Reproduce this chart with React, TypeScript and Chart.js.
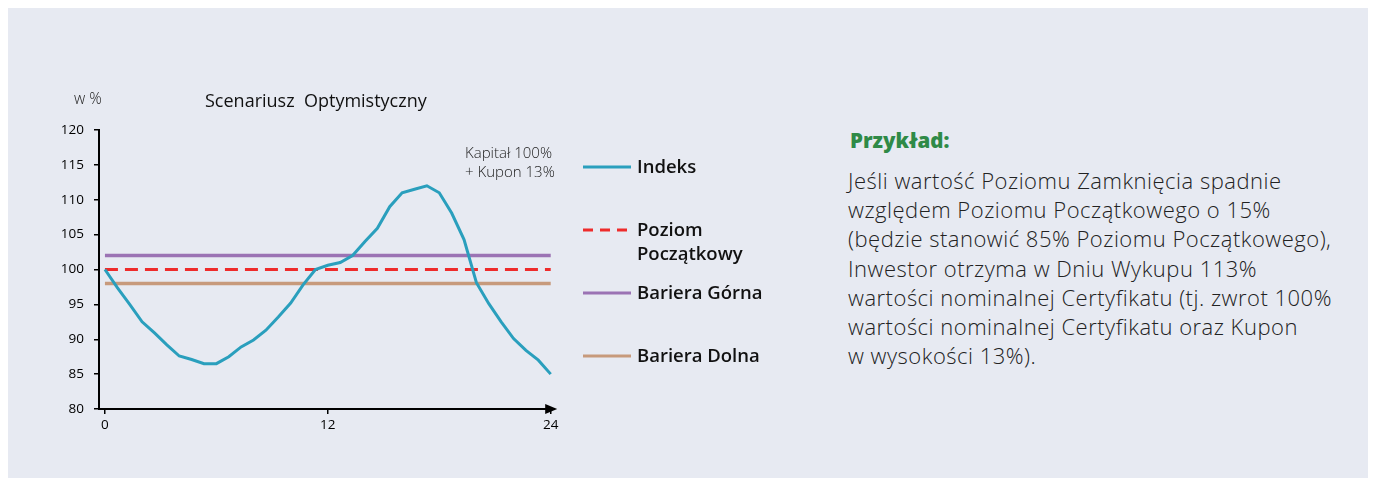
import React, { useEffect, useRef } from "react";
import { Chart, registerables } from "chart.js";

Chart.register(...registerables);

// x positions (months) of the index path, 0..24
const monthsX = [
  0, 0.667, 1.333, 2, 2.667, 3.333, 4, 4.667, 5.333, 6, 6.667, 7.333, 8,
  8.667, 9.333, 10, 10.667, 11.333, 12, 12.667, 13.333, 14, 14.667, 15.333,
  16, 16.667, 17.333, 18, 18.667, 19.333, 20, 20.667, 21.333, 22, 22.667,
  23.333, 24,
];
// Indeks values in %
const indeksValues = [
  100, 97.4, 95.0, 92.5, 90.9, 89.2, 87.6, 87.1, 86.5, 86.5, 87.5, 88.9, 89.9,
  91.3, 93.2, 95.2, 97.8, 100.0, 100.6, 101.0, 102.0, 104.0, 105.9, 109.0,
  111.0, 111.5, 112.0, 111.0, 108.1, 104.3, 98.1, 95.1, 92.5, 90.1, 88.4,
  87.0, 85.0,
];
const levelStartEnd = [0, 24];
const poziomPoczatkowy = 100;
const barieraGorna = 102;
const barieraDolna = 98;
const yTicksRange = [80, 120];
const xTickLabels = [0, 12, 24];

const FONT = "'Open Sans', 'Noto Sans', sans-serif";
const C_INDEKS = "#2a9fbd";
const C_POZIOM = "#ee2b2b";
const C_GORNA = "#9b73b4";
const C_DOLNA = "#c79a7c";

const arrowPlugin = {
  id: "xArrow",
  afterDraw(chart: any) {
    const { ctx, chartArea } = chart;
    const { right, bottom } = chartArea;
    ctx.save();
    ctx.fillStyle = "#000";
    ctx.beginPath();
    ctx.moveTo(right + 5, bottom);
    ctx.lineTo(right - 7, bottom - 5);
    ctx.lineTo(right - 7, bottom + 5);
    ctx.closePath();
    ctx.fill();
    ctx.restore();
  },
};

function ChartCanvas() {
  const ref = useRef<HTMLCanvasElement | null>(null);
  useEffect(() => {
    if (!ref.current) return;
    const flat = (v: number) => levelStartEnd.map((x) => ({ x, y: v }));
    const chart = new Chart(ref.current, {
      type: "line",
      data: {
        datasets: [
          {
            label: "Indeks",
            data: monthsX.map((x, i) => ({ x, y: indeksValues[i] })),
            borderColor: C_INDEKS,
            borderWidth: 3,
            pointRadius: 0,
            tension: 0,
          },
          {
            label: "Poziom Początkowy",
            data: flat(poziomPoczatkowy),
            borderColor: C_POZIOM,
            borderWidth: 3,
            borderDash: [13, 7],
            pointRadius: 0,
          },
          {
            label: "Bariera Górna",
            data: flat(barieraGorna),
            borderColor: C_GORNA,
            borderWidth: 3.5,
            pointRadius: 0,
          },
          {
            label: "Bariera Dolna",
            data: flat(barieraDolna),
            borderColor: C_DOLNA,
            borderWidth: 3.5,
            pointRadius: 0,
          },
        ],
      },
      options: {
        animation: false,
        responsive: false,
        devicePixelRatio: 1,
        layout: { padding: { left: 0, top: 122, right: 55.8, bottom: 0 } },
        plugins: {
          legend: { display: false },
          tooltip: { enabled: false },
          title: { display: false },
        },
        scales: {
          x: {
            type: "linear",
            min: -0.32,
            max: 24.08,
            afterBuildTicks: (scale: any) => {
              scale.ticks = xTickLabels.map((v) => ({ value: v }));
            },
            afterFit: (scale: any) => {
              scale.height = 69;
            },
            grid: {
              drawOnChartArea: false,
              drawTicks: true,
              tickLength: 5,
              color: "#000",
              lineWidth: 1.5,
            },
            border: { display: true, color: "#000", width: 2 },
            ticks: {
              padding: 3,
              color: "#000",
              font: { family: FONT, size: 13.5 },
              maxRotation: 0,
              autoSkip: false,
            },
          },
          y: {
            min: yTicksRange[0],
            max: yTicksRange[1],
            afterFit: (scale: any) => {
              scale.width = 91;
            },
            grid: {
              drawOnChartArea: false,
              drawTicks: true,
              tickLength: 5,
              color: "#000",
              lineWidth: 1.5,
            },
            border: { display: true, color: "#000", width: 2 },
            ticks: {
              stepSize: 5,
              padding: 10,
              color: "#000",
              font: { family: FONT, size: 13.5 },
            },
          },
        },
      },
      plugins: [arrowPlugin],
    } as any);
    return () => chart.destroy();
  }, []);
  return (
    <canvas
      ref={ref}
      width={600}
      height={470}
      style={{ position: "absolute", left: 0, top: 0, width: 600, height: 470 }}
    />
  );
}

const abs = (style: React.CSSProperties): React.CSSProperties => ({
  position: "absolute",
  whiteSpace: "nowrap",
  fontFamily: FONT,
  ...style,
});

function LegendRow(props: {
  top: number;
  color: string;
  dashed?: boolean;
  lines: string[];
}) {
  const { top, color, dashed, lines } = props;
  return (
    <>
      <svg
        style={{ position: "absolute", left: 575, top: top - 3, overflow: "visible" }}
        width={48}
        height={6}
      >
        <line
          x1={0}
          y1={3}
          x2={48}
          y2={3}
          stroke={color}
          strokeWidth={3}
          strokeDasharray={dashed ? "10 7" : undefined}
        />
      </svg>
      <div
        style={abs({
          left: 629,
          top: top - 13,
          fontSize: 18.5,
          fontWeight: 600,
          lineHeight: "24px",
          color: "#111",
        })}
      >
        {lines.map((l, i) => (
          <div key={i}>{l}</div>
        ))}
      </div>
    </>
  );
}

const paragraphLines = [
  "Jeśli wartość Poziomu Zamknięcia spadnie",
  "względem Poziomu Początkowego o 15%",
  "(będzie stanowić 85% Poziomu Początkowego),",
  "Inwestor otrzyma w Dniu Wykupu 113%",
  "wartości nominalnej Certyfikatu (tj. zwrot 100%",
  "wartości nominalnej Certyfikatu oraz Kupon",
  "w wysokości 13%).",
];

export default function App() {
  return (
    <div
      style={{
        position: "relative",
        width: 1360,
        height: 470,
        background: "#e7eaf2",
        overflow: "hidden",
      }}
    >
      <ChartCanvas />
      <div style={abs({ left: 66, top: 80, fontSize: 15.5, fontWeight: 300, lineHeight: "20px", color: "#222" })}>
        w %
      </div>
      <div style={abs({ left: 197, top: 82, fontSize: 18, fontWeight: 500, lineHeight: "20px", color: "#111" })}>
        Scenariusz&nbsp;&nbsp;Optymistyczny
      </div>
      <div style={abs({ left: 457, top: 135, fontSize: 15, fontWeight: 300, lineHeight: "19px", color: "#222" })}>
        <div>Kapitał 100%</div>
        <div>+ Kupon 13%</div>
      </div>

      <LegendRow top={159.3} color={C_INDEKS} lines={["Indeks"]} />
      <LegendRow top={222} color={C_POZIOM} dashed lines={["Poziom", "Początkowy"]} />
      <LegendRow top={285} color={C_GORNA} lines={["Bariera Górna"]} />
      <LegendRow top={348} color={C_DOLNA} lines={["Bariera Dolna"]} />

      <div style={abs({ left: 842, top: 117.5, fontSize: 20.5, fontWeight: 800, lineHeight: "28px", color: "#2f8a47" })}>
        Przykład:
      </div>
      <div style={abs({ left: 840, top: 158, fontSize: 22, fontWeight: 300, letterSpacing: 0.5, lineHeight: "29.2px", color: "#222" })}>
        {paragraphLines.map((l, i) => (
          <div key={i}>{l}</div>
        ))}
      </div>
    </div>
  );
}
